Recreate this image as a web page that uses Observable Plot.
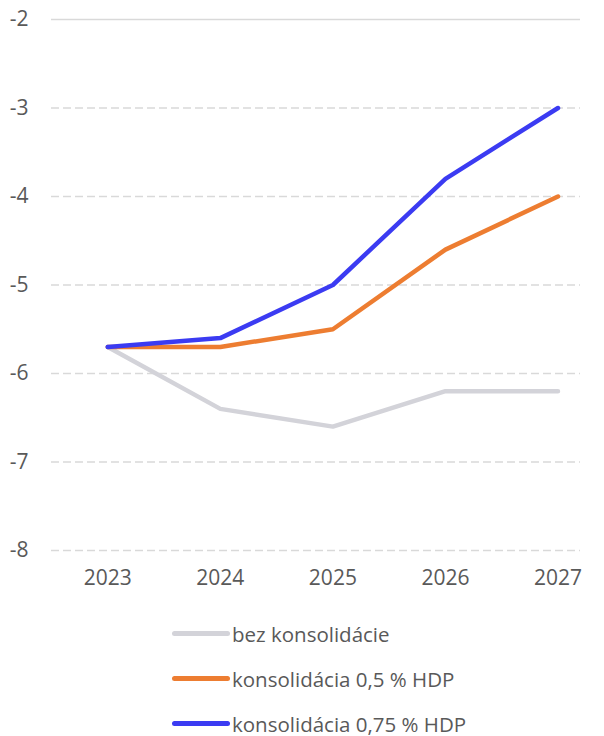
<!DOCTYPE html>
<html>
<head>
<meta charset="utf-8">
<script src="https://cdn.jsdelivr.net/npm/d3@7"></script>
<script src="https://cdn.jsdelivr.net/npm/@observablehq/plot@0.6"></script>
<style>
  html, body { margin: 0; padding: 0; background: #fff; }
  #chart { width: 604px; font-family: "Open Sans", sans-serif; }
  .legend { padding-top: 11px; }
  .item { height: 45px; display: flex; align-items: center; margin-left: 172px; font-size: 20.5px; color: #595959; }
  .swatch { width: 58px; height: 5px; border-radius: 3px; margin-right: 2px; }
</style>
</head>
<body>
<div id="chart"></div>
<script>
const years = [2023, 2024, 2025, 2026, 2027];
const seriesNames = ["bez konsolidácie", "konsolidácia 0,5 % HDP", "konsolidácia 0,75 % HDP"];
const seriesColors = ["#d3d3d9", "#ed7d31", "#3b3bf2"];
const bez = [-5.7, -6.4, -6.6, -6.2, -6.2];
const kons05 = [-5.7, -5.7, -5.5, -4.6, -4.0];
const kons075 = [-5.7, -5.6, -5.0, -3.8, -3.0];
const yTicks = [-8, -7, -6, -5, -4, -3, -2];

const values = [bez, kons05, kons075];
const data = [];
values.forEach((arr, i) => arr.forEach((v, j) => data.push({series: seriesNames[i], year: years[j], value: v})));

const plot = Plot.plot({
  width: 604,
  height: 600,
  marginLeft: 51,
  marginRight: 24,
  marginTop: 19,
  marginBottom: 50,
  style: {fontFamily: "Open Sans, sans-serif", fontSize: "21px", color: "#595959", background: "#fff"},
  x: {domain: [2022.5, 2027.2], label: null},
  y: {domain: [-8, -2], label: null},
  color: {domain: seriesNames, range: seriesColors},
  marks: [
    Plot.ruleY(yTicks.filter(t => t !== -2), {stroke: "#d9d9d9", strokeWidth: 1.3, strokeDasharray: "8,4"}),
    Plot.ruleY([-2], {stroke: "#d9d9d9", strokeWidth: 1.3}),
    Plot.axisX({ticks: years, tickFormat: d => String(d), tickSize: 0, tickPadding: 20, fill: "#595959", fontSize: 21, label: null}),
    Plot.axisY({ticks: yTicks, tickFormat: d => String(d), tickSize: 0, tickPadding: 23, fill: "#595959", fontSize: 21, label: null}),
    Plot.line(data, {x: "year", y: "value", z: "series", stroke: "series", strokeWidth: 4.5, strokeLinejoin: "round"})
  ]
});

const root = document.getElementById("chart");
root.appendChild(plot);
const legend = document.createElement("div");
legend.className = "legend";
seriesNames.forEach((name, i) => {
  const item = document.createElement("div");
  item.className = "item";
  const sw = document.createElement("span");
  sw.className = "swatch";
  sw.style.background = seriesColors[i];
  const label = document.createElement("span");
  label.textContent = name;
  item.appendChild(sw);
  item.appendChild(label);
  legend.appendChild(item);
});
root.appendChild(legend);
</script>
</body>
</html>
